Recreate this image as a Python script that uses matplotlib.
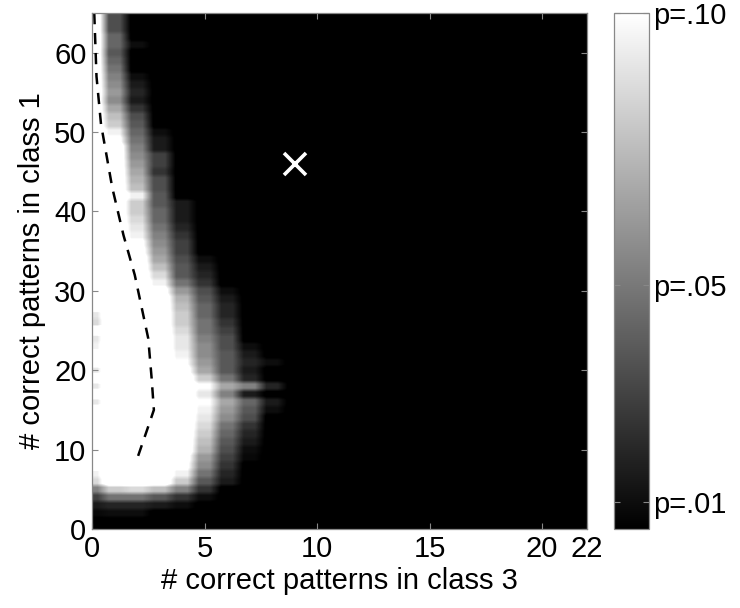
import numpy as np
import matplotlib
matplotlib.use("Agg")
import matplotlib.pyplot as plt

plt.rcParams['font.family'] = ['Liberation Sans', 'DejaVu Sans']

# Grid of p-values (in percent) for (# correct in class 3, # correct in class 1).
# Columns are class-3 counts 0..8; every count above 8 is at the background level.
# Rows run from class-1 count 65 down to 0.
class3_counts = np.arange(0, 23)
class1_counts = np.arange(0, 66)
background_p_percent = 0.3
p_percent_rows_top_down = [
    [12, 3.4],                                   # 65
    [12, 3.4],                                   # 64
    [12, 3.4],                                   # 63
    [12, 4.3],                                   # 62
    [12, 4.3, 1.0],                              # 61
    [12, 3.8],                                   # 60
    [12, 4.3],                                   # 59
    [12, 4.8],                                   # 58
    [12, 5.3, 1.0],                              # 57
    [12, 5.7, 1.5],                              # 56
    [12, 6.2, 1.9],                              # 55
    [12, 5.7, 1.5],                              # 54
    [12, 6.7, 2.4],                              # 53
    [12, 7.6, 3.4],                              # 52
    [12, 8.1, 3.8],                              # 51
    [12, 9.5, 4.3, 1.0],                         # 50
    [12, 10.5, 4.8, 1.5],                        # 49
    [12, 12, 5.3, 1.5],                          # 48
    [12, 12, 5.7, 2.9],                          # 47
    [12, 12, 6.2, 2.9],                          # 46
    [12, 12, 6.7, 2.4],                          # 45
    [12, 12, 7.2, 3.4],                          # 44
    [12, 12, 7.6, 3.4],                          # 43
    [12, 12, 9.5, 3.8],                          # 42
    [12, 12, 8.1, 3.8, 1.5],                     # 41
    [12, 12, 8.1, 4.3, 1.5],                     # 40
    [12, 12, 8.6, 4.3, 1.5],                     # 39
    [12, 12, 9.1, 4.8, 1.9],                     # 38
    [12, 12, 9.5, 5.3, 2.4],                     # 37
    [12, 12, 10.5, 5.7, 2.9],                    # 36
    [12, 12, 11, 6.2, 2.9],                      # 35
    [12, 12, 12, 6.7, 3.4, 1.0],                 # 34
    [12, 12, 12, 7.6, 3.8, 1.5],                 # 33
    [12, 12, 12, 8.6, 3.8, 1.9],                 # 32
    [12, 12, 12, 9.5, 4.8, 2.4],                 # 31
    [12, 12, 12, 11, 6.2, 3.4, 1.0],             # 30
    [12, 12, 12, 12, 7.2, 3.8, 1.5],             # 29
    [12, 12, 12, 12, 7.6, 4.3, 1.9],             # 28
    [9.1, 12, 12, 12, 8.1, 4.3, 1.9],            # 27
    [8.6, 12, 12, 12, 8.1, 4.8, 2.4],            # 26
    [12, 12, 12, 12, 8.6, 4.8, 2.9],             # 25
    [9.1, 12, 12, 12, 9.1, 5.3, 3.4],            # 24
    [9.5, 12, 12, 12, 9.1, 5.7, 3.4, 1.0],       # 23
    [12, 12, 12, 12, 9.5, 5.7, 3.8, 1.5],        # 22
    [12, 12, 12, 12, 10, 6.2, 3.8, 1.9, 1.0],    # 21
    [9.1, 12, 12, 12, 11, 6.7, 3.8, 1.5],        # 20
    [12, 12, 12, 12, 12, 8.1, 4.8, 1.9],         # 19
    [9.1, 12, 12, 12, 12, 10, 6.7, 5.3, 1.9],    # 18
    [12, 12, 12, 12, 12, 9.1, 5.3, 1.5],         # 17
    [9.1, 12, 12, 12, 12, 10, 6.7, 4.3, 1.5],    # 16
    [12, 12, 12, 12, 12, 9.5, 6.2, 3.8, 1.0],    # 15
    [12, 12, 12, 12, 12, 9.1, 5.7, 3.4],         # 14
    [12, 12, 12, 12, 12, 8.6, 4.8, 2.4],         # 13
    [12, 12, 12, 12, 12, 8.1, 4.3, 1.9],         # 12
    [12, 12, 12, 12, 12, 7.6, 3.8, 1.5],         # 11
    [12, 12, 12, 12, 12, 7.2, 3.4, 1.0],         # 10
    [12, 12, 12, 12, 11, 6.2, 2.9, 0.8],         # 9
    [12, 12, 12, 12, 10.5, 5.7, 2.4],            # 8
    [9.5, 12, 12, 12, 9.5, 4.8, 1.9],            # 7
    [8.6, 12, 12, 12, 8.1, 3.8, 1.5],            # 6
    [5.3, 8.1, 8.6, 7.6, 5.3, 2.4],              # 5
    [2.9, 4.8, 4.8, 3.8, 2.4, 1.0],              # 4
    [1.5, 1.9, 1.9, 1.5, 1.0],                   # 3
    [0.8, 1.0, 1.0],                             # 2
    [0.3],                                       # 1
    [0.3],                                       # 0
]

# Median class-1 / class-3 trade-off curve (dashed)
curve_class3 = [0.1, 0.2, 0.4, 0.9, 1.4, 1.9, 2.2, 2.5, 2.65, 2.75, 2.45, 2.0]
curve_class1 = [65, 57, 51, 43, 37, 32, 28, 24, 19, 15, 12.5, 8.8]

# Observed result
observed_class3 = 9
observed_class1 = 46

cbar_ticks = [0.01, 0.05, 0.10]
cbar_labels = ['p=.01', 'p=.05', 'p=.10']
p_min, p_max = 0.005, 0.10

# Assemble the full grid
grid = np.full((len(class1_counts), len(class3_counts)), background_p_percent)
for i, row in enumerate(p_percent_rows_top_down):
    grid[i, :len(row)] = row
grid = grid / 100.0

# Each cell is shown as a block with softened edges
cell_sub = 2
blocks = np.repeat(np.repeat(grid, cell_sub, axis=0), cell_sub, axis=1)

fig = plt.figure(figsize=(7.4, 6.08), dpi=100)
ax = fig.add_axes([92 / 740, 79 / 608, 495 / 740, 516 / 608])
cax = fig.add_axes([614 / 740, 79 / 608, 35 / 740, 516 / 608])

im = ax.imshow(blocks, cmap='gray', vmin=p_min, vmax=p_max, origin='upper',
               extent=[class3_counts[0] - 0.5, class3_counts[-1] + 0.5,
                       class1_counts[0] - 0.5, class1_counts[-1] + 0.5],
               aspect='auto', interpolation='bilinear',
               interpolation_stage='data')

ax.plot(curve_class3, curve_class1, color='black', lw=1.8, linestyle=(0, (4.5, 3.5)))
ax.plot([observed_class3], [observed_class1], marker='x', color='white',
        markersize=16, markeredgewidth=2.6, linestyle='none')

ax.set_xlim(0, 22)
ax.set_ylim(0, 65)
ax.set_xticks([0, 5, 10, 15, 20, 22])
ax.set_yticks([0, 10, 20, 30, 40, 50, 60])
ax.tick_params(direction='in', length=4, width=0.8, color='#888888',
               labelsize=21, top=True, right=True, pad=4)
for s in ax.spines.values():
    s.set_color('#888888')
    s.set_linewidth(0.9)
ax.set_xlabel('# correct patterns in class 3', fontsize=21, labelpad=3)
ax.set_ylabel('# correct patterns in class 1', fontsize=21, labelpad=6)

cb = fig.colorbar(im, cax=cax, ticks=cbar_ticks)
cb.ax.set_yticklabels(cbar_labels)
cb.ax.tick_params(direction='in', length=4, width=0.8, color='#888888',
                  labelsize=21, pad=3, left=True, right=True)
cb.outline.set_edgecolor('#888888')
cb.outline.set_linewidth(0.9)

fig.savefig('out.png', dpi=100)
